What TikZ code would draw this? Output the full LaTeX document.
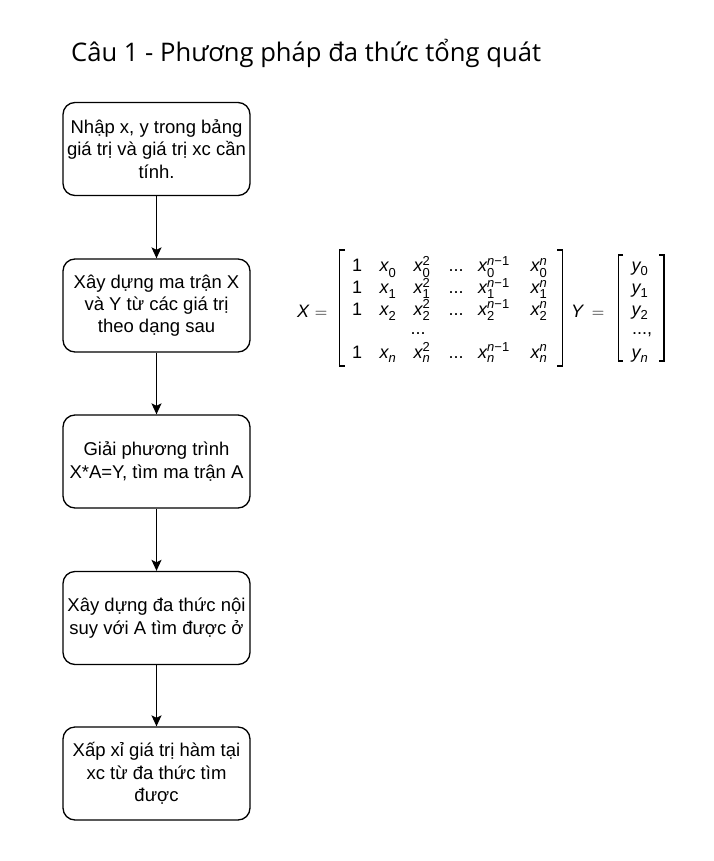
\documentclass[tikz,border=0pt]{standalone}
\usepackage{fontspec}
\usepackage{amsmath}
\setmainfont{Liberation Sans}
\newfontfamily\titlefont{Open Sans}
\usetikzlibrary{arrows.meta}
\DeclareMathSizes{18}{18}{13}{10}
\newcommand\iv[1]{\text{\itshape #1}}
\newcommand\xs[2]{$\iv{x}_{#1}^{#2}$}
\begin{document}
\begin{tikzpicture}[x=1pt,y=-1pt,
  stepbox/.style={draw, line width=1.3pt, rounded corners=12pt, minimum width=187pt, minimum height=93pt, align=center, font=\fontsize{18.5}{22.3}\selectfont, inner sep=0pt},
  flow/.style={-{Stealth[length=11pt,width=10pt,inset=2.5pt]}, line width=1.3pt},
  ent/.style={anchor=base, inner sep=0pt, font=\fontsize{18}{20}\selectfont},
  brk/.style={line width=1.3pt}]
\useasboundingbox (0,0) rectangle (713,861);
\node[anchor=base west, inner sep=0pt, font=\titlefont\fontsize{25.6}{30}\selectfont] (title) at (71,62) {Câu 1 - Phương pháp đa thức tổng quát};

\node[stepbox] (b1) at (156.5,149) {Nhập x, y trong bảng\\giá trị và giá trị xc cần\\tính.};
\node[stepbox] (b2) at (156.5,305.5) {Xây dựng ma trận X\\và Y từ các giá trị\\theo dạng sau};
\node[stepbox] (b3) at (156.5,461.5) {Giải phương trình\\X*A=Y, tìm ma trận A};
\node[stepbox] (b4) at (156.5,618) {Xây dựng đa thức nội\\suy với A tìm được ở};
\node[stepbox] (b5) at (156.5,773.5) {Xấp xỉ giá trị hàm tại\\xc từ đa thức tìm\\được};

\draw[flow] (b1) -- (b2);
\draw[flow] (b2) -- (b3);
\draw[flow] (b3) -- (b4);
\draw[flow] (b4) -- (b5);

% X =
\node[ent] (Xl) at (303,317) {\itshape X};
\node[ent] (Xe) at (321,317) {$=$};
% X matrix brackets
\coordinate (xlt) at (345,250); \coordinate (xlb) at (345,366);
\coordinate (xrt) at (557,250); \coordinate (xrb) at (557,366);
\draw[brk] (xlt) -- (339.5,250) -- (339.5,366) -- (xlb);
\draw[brk] (xrt) -- (562.5,250) -- (562.5,366) -- (xrb);
% rows
\foreach \r/\yy in {0/271.5, 1/293.3, 2/315}{
  \node[ent] (m\r a) at (357,\yy) {1};
  \node[ent] (m\r b) at (388,\yy) {\xs{\text{\r}}{}};
  \node[ent] (m\r c) at (422,\yy) {\xs{\text{\r}}{\text{2}}};
  \node[ent] (m\r d) at (456,\yy) {...};
  \node[ent] (m\r e) at (494,\yy) {\xs{\text{\r}}{\text{{\itshape n}−1}}};
  \node[ent] (m\r f) at (539,\yy) {\xs{\text{\r}}{\iv{n}}};
}
\node[ent] (mdots) at (418,334) {...};
\node[ent] (m4a) at (357,358) {1};
\node[ent] (m4b) at (388,358) {\xs{\iv{n}}{}};
\node[ent] (m4c) at (422,358) {\xs{\iv{n}}{\text{2}}};
\node[ent] (m4d) at (456,358) {...};
\node[ent] (m4e) at (494,358) {\xs{\iv{n}}{\text{{\itshape n}−1}}};
\node[ent] (m4f) at (539,358) {\xs{\iv{n}}{\iv{n}}};

% Y =
\node[ent] (Yl) at (577,317) {\itshape Y};
\node[ent] (Ye) at (598,317) {$=$};
\draw[brk] (623,255) -- (618.3,255) -- (618.3,361) -- (623,361);
\draw[brk] (659,255) -- (664,255) -- (664,361) -- (659,361);
\node[ent] (y0) at (640,271.5) {$\iv{y}_{\text{0}}$};
\node[ent] (y1) at (640,293.3) {$\iv{y}_{\text{1}}$};
\node[ent] (y2) at (640,315) {$\iv{y}_{\text{2}}$};
\node[ent] (ydots) at (642,334) {...,};
\node[ent] (yn) at (640,358) {$\iv{y}_{\iv{n}}$};
\end{tikzpicture}
\end{document}
